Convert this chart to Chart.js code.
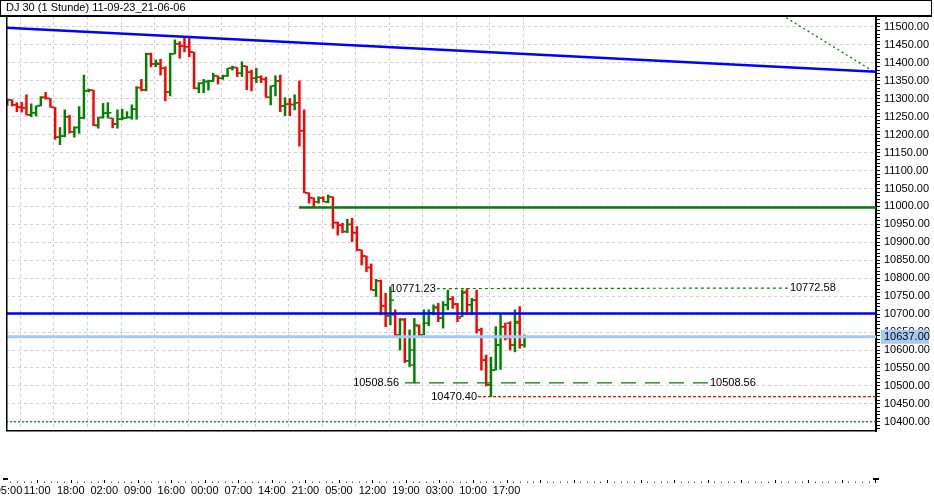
<!DOCTYPE html>
<html lang="de">
<head>
<meta charset="UTF-8">
<title>DJ 30 (1 Stunde)</title>
<script src="https://cdn.jsdelivr.net/npm/chart.js"></script>
<style>
  body { margin: 0; background: #fff; }
  #wrap { width: 934px; height: 502px; }
</style>
</head>
<body>
<div id="wrap"><canvas id="dj" width="934" height="502"></canvas></div>
<script>
const chartTitle = 'DJ 30 (1 Stunde) 11-09-23_21-06-06';

// hourly OHLC bars, bar 0 = 05:00
const opens = [
  11285, 11297, 11283, 11277, 11275, 11255, 11261, 11281, 11304, 11301,
  11276, 11193, 11196, 11250, 11208, 11220, 11247, 11322, 11324, 11225,
  11248, 11260, 11246, 11230, 11243, 11246, 11248, 11271, 11331, 11325,
  11425, 11397, 11396, 11385, 11319, 11425, 11453, 11447, 11445, 11430,
  11329, 11343, 11348, 11350, 11364, 11357, 11364, 11385, 11387, 11371,
  11391, 11374, 11357, 11360, 11354, 11304, 11336, 11350, 11280, 11285,
  11284, 11289, 11211, 11038, 11024, 11013, 11024, 11013, 11027, 10955,
  10948, 10930, 10950, 10927, 10879, 10862, 10830, 10767, 10793, 10723,
  10695, 10698, 10642, 10684, 10570, 10558, 10667, 10642, 10675, 10703,
  10717, 10689, 10726, 10742, 10728, 10693, 10762, 10726, 10739, 10656,
  10572, 10503, 10544, 10614, 10665, 10675, 10614, 10679, 10614
];
const highs = [
  11299, 11297, 11289, 11290, 11311, 11286, 11280, 11306, 11318, 11301,
  11276, 11220, 11269, 11254, 11222, 11278, 11366, 11327, 11324, 11248,
  11287, 11289, 11246, 11269, 11271, 11264, 11283, 11334, 11354, 11427,
  11427, 11408, 11410, 11389, 11427, 11464, 11459, 11471, 11471, 11430,
  11345, 11354, 11352, 11371, 11364, 11366, 11385, 11391, 11387, 11403,
  11391, 11380, 11385, 11364, 11360, 11336, 11364, 11366, 11303, 11301,
  11311, 11350, 11269, 11038, 11024, 11027, 11027, 11032, 11027, 10957,
  10953, 10964, 10967, 10944, 10879, 10862, 10840, 10797, 10795, 10758,
  10776, 10712, 10688, 10688, 10656, 10688, 10670, 10712, 10712, 10726,
  10730, 10735, 10767, 10749, 10730, 10767, 10771.23, 10744, 10767, 10661,
  10586, 10580, 10665, 10702, 10675, 10679, 10712, 10721, 10642
];
const lows = [
  11281, 11280, 11264, 11263, 11255, 11250, 11252, 11280, 11299, 11276,
  11187, 11172, 11194, 11204, 11193, 11204, 11244, 11319, 11225, 11218,
  11246, 11246, 11219, 11218, 11241, 11246, 11243, 11243, 11322, 11322,
  11389, 11389, 11366, 11294, 11308, 11425, 11413, 11431, 11417, 11328,
  11317, 11317, 11324, 11348, 11341, 11354, 11362, 11380, 11362, 11362,
  11325, 11322, 11345, 11345, 11304, 11283, 11308, 11264, 11253, 11253,
  11269, 11168, 11038, 11009, 10999, 11009, 11013, 11010, 10939, 10920,
  10927, 10927, 10902, 10877, 10837, 10818, 10767, 10749, 10698, 10665,
  10670, 10639, 10600, 10565, 10554, 10508.56, 10637, 10642, 10668, 10698,
  10679, 10661, 10712, 10716, 10679, 10693, 10698, 10698, 10647, 10544,
  10500, 10470.40, 10544, 10546, 10628, 10600, 10595, 10605, 10608
];
const closes = [
  11297, 11283, 11276, 11275, 11255, 11261, 11280, 11304, 11301, 11276,
  11193, 11196, 11250, 11208, 11220, 11247, 11322, 11324, 11227, 11248,
  11260, 11261, 11229, 11243, 11246, 11248, 11271, 11331, 11325, 11425,
  11397, 11399, 11385, 11319, 11425, 11453, 11447, 11445, 11430, 11329,
  11343, 11348, 11350, 11364, 11357, 11364, 11385, 11387, 11371, 11391,
  11374, 11357, 11360, 11354, 11304, 11336, 11350, 11280, 11285, 11284,
  11289, 11211, 11038, 11024, 11013, 11024, 11013, 11027, 10955, 10948,
  10930, 10950, 10927, 10879, 10862, 10830, 10767, 10793, 10723, 10695,
  10739, 10642, 10686, 10570, 10600, 10670, 10642, 10702, 10703, 10720,
  10689, 10726, 10742, 10728, 10689, 10759, 10726, 10739, 10656, 10572,
  10503, 10544, 10614, 10665, 10634, 10614, 10675, 10614, 10637
];

// time axis labels and the bar each one belongs to
const timeLabels = ['05:00', '11:00', '18:00', '02:00', '09:00', '16:00', '00:00', '07:00',
                    '14:00', '21:00', '05:00', '12:00', '19:00', '03:00', '10:00', '17:00'];
const timeLabelBars = [0, 6, 13, 20, 27, 34, 41, 48, 55, 62, 69, 76, 83, 90, 97, 104];

// drawn objects (bar position / price)
const trendBluePrices = [11498, 11375];          // left edge -> right edge
const trendGreenBars = [160, 181.4];
const trendGreenPrices = [11547.6, 11371.8];
const resistBar = 60.9;
const resistPrice = 10997;
const blueLevel = 10702;
const bidPrice = 10637;
const highLineBars = [89.7, 163.0];
const highLinePrices = [10771.23, 10772.58];
const lowLineBars = [83.05, 146.3];
const lowLinePrice = 10508.56;
const low2Bar = 98.3;
const low2Price = 10470.40;
const floorPrice = 10400;

const X_MIN = -0.27, X_MAX = 181.4;
const Y_MIN = 10374.4, Y_MAX = 11530.6;
const GRID_SHIFT = 0.25;
const GREEN = '#008000', RED = '#ff0000', BLUE = '#0000ff';
const GRID_COLOR = '#d0d0d0';
const FONT = '11px "Liberation Sans", Arial, sans-serif';

Chart.defaults.font.family = '"Liberation Sans", Arial, sans-serif';
Chart.defaults.font.size = 11;
Chart.defaults.color = '#000';

const barColors = closes.map((c, i) => c >= opens[i] ? GREEN : RED);

function seg(bars, prices, color, width, dash) {
  return {
    type: 'line',
    data: bars.map((b, i) => ({ x: b, y: prices[i] })),
    borderColor: color,
    borderWidth: width,
    borderDash: dash || [],
    pointRadius: 0,
    fill: false,
    tension: 0,
    clip: 0,
    order: 0
  };
}

const overlay = {
  id: 'overlay',
  afterDatasetsDraw(chart) {
    const { ctx } = chart;
    const xs = chart.scales.x, ys = chart.scales.y;
    ctx.save();
    ctx.font = FONT;
    ctx.fillStyle = '#000';
    ctx.textBaseline = 'middle';
    ctx.textAlign = 'right';
    ctx.fillText(highLinePrices[0].toFixed(2), xs.getPixelForValue(highLineBars[0]) - 1, ys.getPixelForValue(highLinePrices[0]));
    ctx.fillText(lowLinePrice.toFixed(2), xs.getPixelForValue(lowLineBars[0]) - 6, ys.getPixelForValue(lowLinePrice));
    ctx.fillText(low2Price.toFixed(2), xs.getPixelForValue(low2Bar) - 1, ys.getPixelForValue(low2Price));
    ctx.textAlign = 'left';
    ctx.fillText(highLinePrices[1].toFixed(2), xs.getPixelForValue(highLineBars[1]) + 2, ys.getPixelForValue(highLinePrices[1]));
    ctx.fillText(lowLinePrice.toFixed(2), xs.getPixelForValue(lowLineBars[1]) + 2, ys.getPixelForValue(lowLinePrice));
    ctx.restore();
  },
  afterDraw(chart) {
    const { ctx, chartArea: a } = chart;
    const xs = chart.scales.x, ys = chart.scales.y;
    ctx.save();
    // title box
    ctx.fillStyle = '#fff';
    ctx.fillRect(0, 0, 932, 15);
    ctx.strokeStyle = '#000';
    ctx.lineWidth = 1;
    ctx.strokeRect(0.5, 0.5, 931, 15);
    ctx.fillStyle = '#000';
    ctx.fillRect(0, 15, 932, 2);
    ctx.font = FONT;
    ctx.textBaseline = 'middle';
    ctx.textAlign = 'left';
    ctx.fillText(chartTitle, 6, 8);
    // frame
    ctx.fillRect(a.left, a.top, 1.5, a.bottom - a.top);
    ctx.fillRect(a.left, a.bottom - 1, a.right - a.left, 1.5);
    // current price tag
    const yb = ys.getPixelForValue(bidPrice);
    ctx.fillStyle = '#a6caf0';
    ctx.fillRect(a.right + 5, yb - 7, 48, 14);
    ctx.fillStyle = '#000';
    ctx.fillText(bidPrice.toFixed(2), a.right + 8, yb + 0.5);
    // bottom markers and time ticks
    ctx.fillRect(3, 478, 5, 2);
    ctx.fillRect(a.right - 3, 478, 6, 2);
    for (let k = -4; ; k++) {
      const x = xs.getPixelForValue(timeLabelBars[1] + GRID_SHIFT + k * 1.4);
      if (x > a.right) break;
      const major = k % 5 === 0;
      ctx.fillStyle = major ? '#000' : '#555';
      ctx.fillRect(Math.round(x), major ? 480 : 481.5, 1, major ? 3 : 1.5);
    }
    ctx.fillStyle = '#000';
    ctx.textAlign = 'center';
    timeLabels.forEach((t, i) => {
      ctx.fillText(t, xs.getPixelForValue(timeLabelBars[i] + GRID_SHIFT), 491);
    });
    ctx.restore();
  }
};

new Chart(document.getElementById('dj'), {
  type: 'scatter',
  data: {
    datasets: [
      seg([X_MIN, X_MAX], trendBluePrices, BLUE, 2.5),
      seg(trendGreenBars, trendGreenPrices, GREEN, 1.3, [2, 3]),
      seg([resistBar, X_MAX], [resistPrice, resistPrice], GREEN, 2.4),
      seg([X_MIN, X_MAX], [blueLevel, blueLevel], BLUE, 2.5),
      seg([X_MIN, X_MAX], [bidPrice, bidPrice], '#a6caf0', 3),
      seg([X_MIN, X_MAX], [bidPrice, bidPrice], '#3a6ea5', 1.2),
      seg(highLineBars, highLinePrices, GREEN, 1.2, [3, 3]),
      seg(lowLineBars, [lowLinePrice, lowLinePrice], GREEN, 1.3, [15, 9]),
      seg([low2Bar, X_MAX], [low2Price, low2Price], RED, 1.2, [3, 2]),
      seg([X_MIN, X_MAX], [floorPrice, floorPrice], GREEN, 1.2, [2, 2]),
      {
        type: 'bar',
        data: highs.map((h, i) => ({ x: i, y: [lows[i], h] })),
        backgroundColor: barColors,
        borderWidth: 0,
        barThickness: 1.8,
        grouped: false,
        order: 2
      },
      {
        type: 'scatter',
        data: opens.map((o, i) => ({ x: i - 0.45, y: o })),
        pointStyle: 'line',
        pointRadius: 1.4,
        pointBorderWidth: 1.5,
        pointBorderColor: barColors,
        order: 1
      },
      {
        type: 'scatter',
        data: closes.map((c, i) => ({ x: i + 0.45, y: c })),
        pointStyle: 'line',
        pointRadius: 1.4,
        pointBorderWidth: 1.5,
        pointBorderColor: barColors,
        order: 1
      }
    ]
  },
  options: {
    responsive: false,
    animation: false,
    events: [],
    layout: { padding: { left: 6, top: 16, right: 0, bottom: 71 } },
    plugins: { legend: { display: false }, tooltip: { enabled: false } },
    scales: {
      x: {
        type: 'linear',
        min: X_MIN,
        max: X_MAX,
        offset: false,
        afterBuildTicks: s => { s.ticks = timeLabelBars.slice(1).map(b => ({ value: b + GRID_SHIFT })); },
        ticks: { display: false },
        grid: { color: GRID_COLOR, drawTicks: false, lineWidth: 1 },
        border: { display: false, dash: [3, 3] }
      },
      y: {
        position: 'right',
        min: Y_MIN,
        max: Y_MAX,
        afterBuildTicks: s => {
          const t = [];
          for (let v = 10380; v <= 11530; v += 10) t.push({ value: v });
          s.ticks = t;
        },
        afterFit: s => { s.width = 58; },
        ticks: {
          autoSkip: false,
          padding: 4,
          callback: v => v % 50 === 0 ? v.toFixed(2) : ''
        },
        grid: {
          color: c => (c.tick && c.tick.value % 50 === 0) ? GRID_COLOR : 'rgba(0,0,0,0)',
          tickColor: '#000',
          tickWidth: 1,
          tickLength: 4,
          lineWidth: 1
        },
        border: { display: true, color: '#000', width: 2, dash: [3, 3] }
      }
    }
  },
  plugins: [overlay]
});
</script>
</body>
</html>
